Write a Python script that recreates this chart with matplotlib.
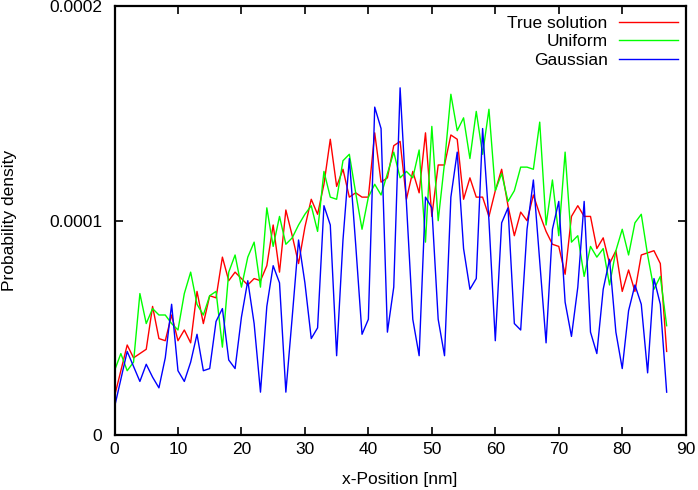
import matplotlib
matplotlib.use("Agg")
import matplotlib.pyplot as plt
import numpy as np

plt.rcParams['font.family'] = ['Liberation Sans', 'DejaVu Sans']

x_nm = list(range(88))

true_solution = [0.18, 0.30, 0.42, 0.36, 0.38, 0.40, 0.60, 0.45, 0.44, 0.56,
                 0.44, 0.49, 0.43, 0.67, 0.52, 0.65, 0.64, 0.83, 0.72, 0.76,
                 0.73, 0.70, 0.73, 0.72, 0.79, 0.98, 0.76, 1.05, 0.93, 0.80,
                 0.97, 1.10, 1.03, 1.17, 1.38, 1.16, 1.24, 1.11, 1.13, 1.11,
                 1.11, 1.41, 1.18, 1.20, 1.35, 1.37, 1.10, 1.23, 1.13, 1.41,
                 1.02, 1.26, 1.26, 1.40, 1.38, 1.10, 1.20, 1.11, 1.11, 1.02,
                 1.14, 1.24, 1.07, 0.93, 1.04, 1.00, 1.12, 1.03, 0.95, 0.89,
                 0.88, 0.75, 1.02, 1.07, 1.02, 1.02, 0.87, 0.92, 0.80, 0.86,
                 0.67, 0.77, 0.67, 0.84, 0.85, 0.86, 0.80, 0.39]

uniform = [0.30, 0.38, 0.30, 0.34, 0.66, 0.52, 0.59, 0.56, 0.56, 0.52,
           0.49, 0.66, 0.76, 0.61, 0.56, 0.65, 0.67, 0.41, 0.76, 0.84,
           0.69, 0.83, 0.90, 0.69, 1.06, 0.88, 1.02, 0.89, 0.92, 0.98,
           1.03, 1.07, 0.95, 1.23, 1.11, 1.10, 1.28, 1.31, 1.13, 0.96,
           1.11, 1.17, 1.12, 1.22, 1.32, 1.20, 1.23, 1.20, 1.33, 0.90,
           1.44, 1.00, 1.27, 1.59, 1.42, 1.48, 1.29, 1.51, 1.31, 1.52,
           1.14, 1.22, 1.09, 1.14, 1.25, 1.25, 1.24, 1.46, 0.98, 1.19,
           0.93, 1.32, 0.90, 0.93, 0.74, 0.88, 0.83, 0.87, 0.70, 0.86,
           0.96, 0.84, 0.99, 1.03, 0.84, 0.68, 0.74, 0.51]

gaussian = [0.13, 0.26, 0.39, 0.32, 0.25, 0.33, 0.27, 0.22, 0.36, 0.61,
            0.30, 0.25, 0.34, 0.47, 0.30, 0.31, 0.53, 0.59, 0.35, 0.31,
            0.55, 0.72, 0.52, 0.20, 0.60, 0.79, 0.71, 0.20, 0.55, 0.91,
            0.71, 0.45, 0.50, 1.07, 0.98, 0.37, 0.91, 1.29, 0.89, 0.47,
            0.54, 1.53, 1.43, 0.48, 0.69, 1.62, 1.08, 0.54, 0.37, 1.11,
            1.06, 0.54, 0.37, 1.11, 1.32, 0.87, 0.68, 0.73, 1.43, 1.00,
            0.44, 0.99, 1.06, 0.52, 0.49, 0.96, 1.19, 0.81, 0.43, 0.96,
            1.09, 0.62, 0.46, 0.69, 1.09, 0.48, 0.38, 0.68, 0.82, 0.48,
            0.31, 0.58, 0.70, 0.61, 0.29, 0.73, 0.61, 0.20]

scale = 1e-4
x_ticks = [0, 10, 20, 30, 40, 50, 60, 70, 80, 90]
y_ticks = [0, 0.0001, 0.0002]
y_tick_labels = ["0", "0.0001", "0.0002"]

fig = plt.figure(figsize=(6.98, 4.90), dpi=100)
ax = fig.add_axes([114.5 / 698, 55 / 490, (685.7 - 114.5) / 698, (435 - 6.4) / 490])

ax.plot(x_nm, np.array(true_solution) * scale, color='#ff0000', lw=1.0, label='True solution')
ax.plot(x_nm, np.array(uniform) * scale, color='#00ff00', lw=1.0, label='Uniform')
ax.plot(x_nm, np.array(gaussian) * scale, color='#0000ff', lw=1.0, label='Gaussian')

ax.set_xlim(0, 90)
ax.set_ylim(0, 0.0002)
ax.set_xticks(x_ticks)
ax.set_xticklabels([str(t) for t in x_ticks])
ax.set_yticks(y_ticks)
ax.set_yticklabels(y_tick_labels)
ax.tick_params(direction='in', length=6, width=1.2, top=True, right=True,
               labelsize=12.5, colors='black')
ax.tick_params(axis='x', pad=5)
ax.tick_params(axis='y', pad=9)
for s in ax.spines.values():
    s.set_linewidth(1.6)
    s.set_color('black')

ax.set_xlabel('x-Position [nm]', fontsize=12.5)
ax.set_ylabel('Probability density', fontsize=12.5)
ax.xaxis.set_label_coords(0.5, -0.087)
ax.yaxis.set_label_coords(-0.171, 0.5)

ax.legend(loc='upper right', frameon=False, markerfirst=False, fontsize=12.5,
          handlelength=3.4, handletextpad=0.65, labelspacing=0.2,
          borderaxespad=0.12, bbox_to_anchor=(1.002, 1.0))

fig.savefig('out.png', dpi=100)
